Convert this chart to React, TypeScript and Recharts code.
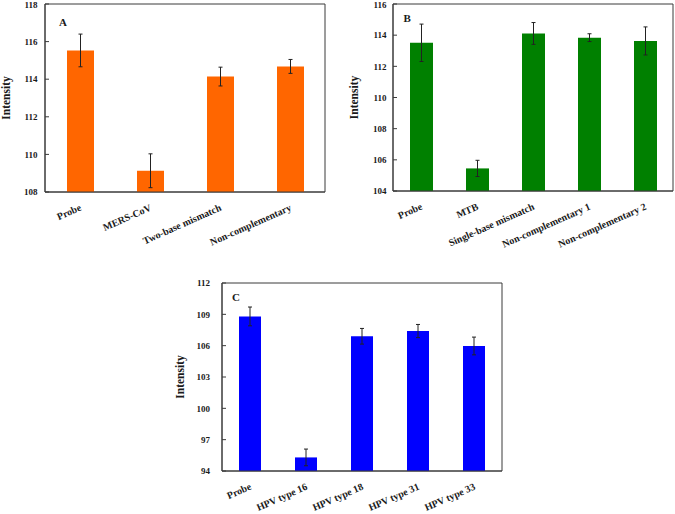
import { BarChart, Bar, XAxis, YAxis, ErrorBar, ReferenceArea } from "recharts";

const catsA = ["Probe", "MERS-CoV", "Two-base mismatch", "Non-complementary"];
const valsA = [115.53, 109.13, 114.14, 114.68];
const errA = [0.87, 0.9, 0.5, 0.37];
const ticksA = [108, 110, 112, 114, 116, 118];

const catsB = ["Probe", "MTB", "Single-base mismatch", "Non-complementary 1", "Non-complementary 2"];
const valsB = [113.51, 105.45, 114.11, 113.84, 113.63];
const errB = [1.2, 0.52, 0.7, 0.25, 0.9];
const ticksB = [104, 106, 108, 110, 112, 114, 116];

const catsC = ["Probe", "HPV type 16", "HPV type 18", "HPV type 31", "HPV type 33"];
const valsC = [108.8, 95.3, 106.9, 107.4, 105.97];
const errC = [0.9, 0.8, 0.75, 0.63, 0.85];
const ticksC = [94, 97, 100, 103, 106, 109, 112];

const FONT = "'Liberation Serif', 'Times New Roman', serif";
const INK = "#1a1a1a";
const FRAME = "#3a3a3a";

// plain svg text so long names are never wrapped
function XTick({ x, y, payload }: any) {
    const tx = x + 2;
    return (
        <text
            x={tx}
            y={y}
            textAnchor="end"
            transform={`rotate(-24, ${tx}, ${y})`}
            fontFamily={FONT}
            fontWeight="bold"
            fontSize={10}
            fill={INK}
        >
            {payload.value}
        </text>
    );
}

interface PanelProps {
    letter: string;
    cats: string[];
    vals: number[];
    errs: number[];
    ticks: number[];
    color: string;
    left: number;
    top: number;
    width: number;
    height: number;
    margin: { top: number; right: number; bottom: number; left: number };
    yWidth: number;
    xHeight: number;
    barSize: number;
    tickGap: number;
    labelX: number;
    letterOffset: number;
}

function Panel(p: PanelProps) {
    const data = p.cats.map((name, i) => ({ name, value: p.vals[i], err: p.errs[i] }));
    const lo = p.ticks[0];
    const hi = p.ticks[p.ticks.length - 1];

    return (
        <div style={{ position: "absolute", left: p.left, top: p.top }}>
            <BarChart width={p.width} height={p.height} data={data} margin={p.margin}>
                <ReferenceArea
                    y1={lo}
                    y2={hi}
                    fill="none"
                    stroke={FRAME}
                    strokeWidth={1}
                    ifOverflow="visible"
                    label={{
                        value: p.letter,
                        position: "insideTopLeft",
                        offset: p.letterOffset,
                        style: { fontFamily: FONT, fontWeight: "bold", fontSize: 11, fill: INK },
                    }}
                />
                <XAxis
                    dataKey="name"
                    height={p.xHeight}
                    interval={0}
                    tickLine={false}
                    tickSize={0}
                    tickMargin={18}
                    axisLine={{ stroke: FRAME }}
                    tick={<XTick />}
                />
                <YAxis
                    width={p.yWidth}
                    domain={[lo, hi]}
                    ticks={p.ticks}
                    allowDataOverflow
                    tickSize={-4}
                    tickMargin={p.tickGap + 4}
                    tickLine={{ stroke: FRAME }}
                    axisLine={{ stroke: FRAME }}
                    tick={{ fontFamily: FONT, fontWeight: "bold", fontSize: 9, fill: INK }}
                    label={{
                        value: "Intensity",
                        content: ({ viewBox }: any) => {
                            const cx = p.labelX;
                            const cy = viewBox.y + viewBox.height / 2;
                            return (
                                <text
                                    x={cx}
                                    y={cy}
                                    textAnchor="middle"
                                    transform={`rotate(-90, ${cx}, ${cy})`}
                                    fontFamily={FONT}
                                    fontWeight="bold"
                                    fontSize={11.5}
                                    fill={INK}
                                >
                                    Intensity
                                </text>
                            );
                        },
                    }}
                />
                <Bar dataKey="value" fill={p.color} barSize={p.barSize} isAnimationActive={false}>
                    <ErrorBar dataKey="err" width={2} stroke="#222" strokeWidth={1} isAnimationActive={false} />
                </Bar>
            </BarChart>
        </div>
    );
}

export default function App() {
    return (
        <div style={{ position: "absolute", left: 0, top: 0, width: 675, height: 514, background: "#fff" }}>
            <Panel
                letter="A"
                cats={catsA}
                vals={valsA}
                errs={errA}
                ticks={ticksA}
                color="#FF6600"
                left={0}
                top={0}
                width={335}
                height={260}
                margin={{ top: 4, right: 10, bottom: 0, left: 0 }}
                yWidth={45}
                xHeight={68}
                barSize={27}
                tickGap={7.5}
                labelX={9.5}
                letterOffset={14}
            />
            <Panel
                letter="B"
                cats={catsB}
                vals={valsB}
                errs={errB}
                ticks={ticksB}
                color="#008000"
                left={330}
                top={0}
                width={345}
                height={260}
                margin={{ top: 4, right: 2, bottom: 0, left: 0 }}
                yWidth={63}
                xHeight={69}
                barSize={23}
                tickGap={6.6}
                labelX={28}
                letterOffset={10.5}
            />
            <Panel
                letter="C"
                cats={catsC}
                vals={valsC}
                errs={errC}
                ticks={ticksC}
                color="#0000FF"
                left={160}
                top={260}
                width={360}
                height={254}
                margin={{ top: 23, right: 18, bottom: 0, left: 0 }}
                yWidth={62}
                xHeight={43}
                barSize={22}
                tickGap={12}
                labelX={24}
                letterOffset={10}
            />
        </div>
    );
}
